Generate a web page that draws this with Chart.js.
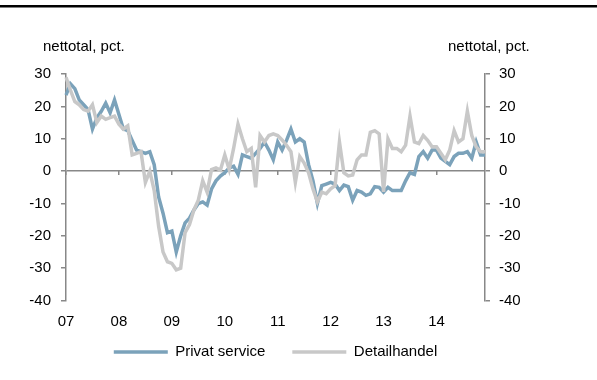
<!DOCTYPE html>
<html>
<head>
<meta charset="utf-8">
<script src="https://cdn.jsdelivr.net/npm/chart.js@4/dist/chart.umd.min.js"></script>
<style>
    html, body { margin: 0; padding: 0; background: #fff; }
    #wrap { width: 597px; height: 380px; }
</style>
</head>
<body>
<div id="wrap"><canvas id="myChart" width="597" height="380"></canvas></div>
<script>
// monthly labels jan 2007 - dec 2014
const years = ['2007', '2008', '2009', '2010', '2011', '2012', '2013', '2014'];
const monthLabels = [];
years.forEach(y => {
    for (let m = 1; m <= 12; m++) monthLabels.push(y + '-' + String(m).padStart(2, '0'));
});

const privatService = [
    23.5, 27, 25.5, 22, 20.5, 19, 13, 16.5, 18.5, 21, 18, 22,
    17.5, 13, 12.5, 9.5, 6.5, 6, 5.5, 6, 2, -8, -13, -19,
    -18.5, -25, -20, -16, -14.5, -12, -10, -9.5, -10.5, -5.5, -3, -1.5,
    -0.5, 1, 1.5, -1, 5, 4.5, 4, 5.5, 7, 9, 6.5, 3.5,
    9, 6.5, 9.5, 13, 9, 10, 9, 2, -3, -10, -4.5, -4,
    -3.5, -4, -6, -4.3, -4.8, -9, -6, -6.5, -7.5, -7, -4.8, -5,
    -6.5, -5, -6, -6, -6, -3, -0.5, -1, 4.5, 6, 4, 6.5,
    6.5, 4, 3, 2, 4.5, 5.5, 5.5, 6, 4, 9, 5, 5
];
const detailhandel = [
    29, 25, 21.5, 20.5, 19, 18.5, 20.5, 15, 17, 16, 16.5, 17,
    14.5, 13, 14, 5, 5.5, 6, -3.5, 0, -6, -17, -25, -28,
    -28.5, -30.5, -30, -19, -16.5, -12, -9, -3, -6.5, 0.5, 1, 0.3,
    5, 0.5, 7, 14.5, 10, 6, 7, -5, 11, 9, 11, 11.5,
    11, 9.6, 8, 6, -3.5, 4.5, 2.5, -0.5, -5.5, -9.5, -6.5, -7,
    -5.5, -4.5, 9, -0.5, -1.5, -1.2, 3.5, 5, 5, 12, 12.5, 11.5,
    -6.4, 10, 7, 7, 6, 8, 17, 9, 8.5, 11, 9.5, 7.5,
    7.5, 5.5, 3.5, 6.5, 12.5, 9, 10, 18.5, 11, 7.5, 6, 6
];
const yTicks = [30, 20, 10, 0, -10, -20, -30, -40];
const axisTitle = 'nettotal, pct.';

const FONT = 'Liberation Sans, Arial, sans-serif';
const AXIS_GREY = '#888888';

// keep only january ticks
function januaryTicks(scale) {
    scale.ticks = scale.ticks.filter(t => monthLabels[t.value].endsWith('-01'));
}

const extras = {
    id: 'extras',
    afterDraw(chart) {
        const ctx = chart.ctx;
        ctx.save();
        ctx.fillStyle = '#000';
        ctx.fillRect(0, 5, chart.width, 2.5);
        ctx.font = '15px ' + FONT;
        ctx.textBaseline = 'middle';
        ctx.textAlign = 'left';
        ctx.fillText(axisTitle, 43, 47);
        ctx.fillText(axisTitle, 448, 47);
        ctx.restore();
    }
};

const yAxisBase = (pos) => ({
    type: 'linear',
    position: pos,
    min: -40,
    max: 30,
    afterBuildTicks: scale => { scale.ticks = yTicks.map(v => ({ value: v })); },
    ticks: { color: '#000', font: { family: FONT, size: 15 }, padding: pos === 'left' ? 10 : 9 },
    border: { display: true, color: AXIS_GREY, width: 1.5 },
    grid: {
        drawOnChartArea: pos === 'left',
        color: ctx => (ctx.tick && ctx.tick.value === 0) ? AXIS_GREY : 'rgba(0,0,0,0)',
        lineWidth: 1.5,
        tickColor: AXIS_GREY,
        tickLength: 5
    }
});

document.addEventListener('DOMContentLoaded', () => {
    const GRAPH = document.getElementById('myChart').getContext('2d');
    window.myGraph = new Chart(GRAPH, {
        type: 'line',
        data: {
            labels: monthLabels,
            datasets: [
                {
                    label: 'Privat service',
                    data: privatService,
                    borderColor: '#7ba2ba',
                    backgroundColor: '#7ba2ba',
                    borderWidth: 3.5,
                    pointRadius: 0,
                    tension: 0,
                    order: 1
                },
                {
                    label: 'Detailhandel',
                    data: detailhandel,
                    borderColor: '#c8c8c8',
                    backgroundColor: '#c8c8c8',
                    borderWidth: 3.5,
                    pointRadius: 0,
                    tension: 0,
                    order: 0
                }
            ]
        },
        options: {
            responsive: false,
            animation: false,
            layout: { padding: { top: 74, left: 0, right: 0, bottom: 10.4 } },
            scales: {
                // data axis, only reserves room above the legend
                x: {
                    type: 'category',
                    position: 'bottom',
                    offset: false,
                    afterFit: scale => { scale.height = 17; },
                    ticks: { display: false },
                    grid: { display: false, drawTicks: false },
                    border: { display: false }
                },
                // tick marks on the zero line
                x2: {
                    type: 'category',
                    labels: monthLabels,
                    position: { y: 0 },
                    offset: false,
                    afterBuildTicks: januaryTicks,
                    ticks: { display: false, autoSkip: false },
                    grid: { drawOnChartArea: false, color: AXIS_GREY, tickColor: AXIS_GREY, tickLength: 4, lineWidth: 1.5 },
                    border: { display: false }
                },
                // year labels under the plot
                x3: {
                    type: 'category',
                    labels: monthLabels,
                    position: { y: -40 },
                    offset: false,
                    afterBuildTicks: januaryTicks,
                    ticks: {
                        autoSkip: false,
                        maxRotation: 0,
                        color: '#000',
                        font: { family: FONT, size: 15 },
                        padding: 12.4,
                        callback: function(value) { return this.getLabelForValue(value).slice(2, 4); }
                    },
                    grid: { display: false, drawTicks: false },
                    border: { display: false }
                },
                y: Object.assign(yAxisBase('left'), {
                    afterFit: scale => { scale.width = 66; }
                }),
                y2: Object.assign(yAxisBase('right'), {
                    afterFit: scale => { scale.width = 112; }
                })
            },
            plugins: {
                legend: {
                    position: 'bottom',
                    fullSize: false,
                    labels: {
                        color: '#000',
                        font: { family: FONT, size: 15 },
                        usePointStyle: true,
                        pointStyle: 'line',
                        pointStyleWidth: 54,
                        padding: 27,
                        sort: (a, b) => a.datasetIndex - b.datasetIndex
                    }
                },
                tooltip: { enabled: false }
            }
        },
        plugins: [extras]
    });
});
</script>
</body>
</html>
